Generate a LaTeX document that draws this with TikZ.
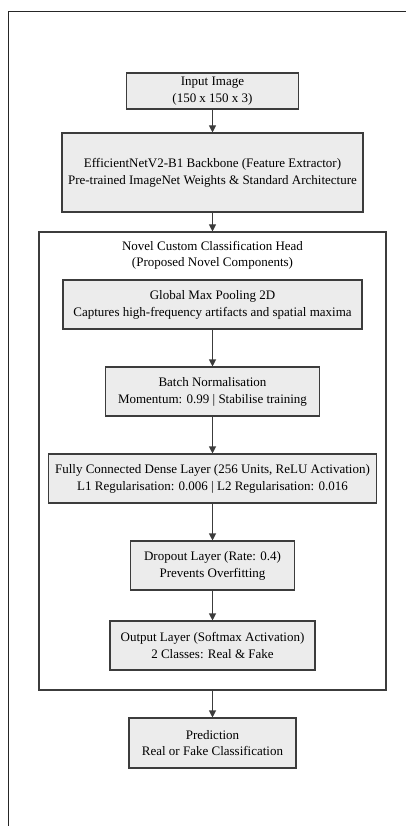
\documentclass[tikz,border=0pt]{standalone}
\usepackage{fontspec}
\setmainfont{Liberation Serif}
\usepackage{xcolor}
\usetikzlibrary{arrows.meta,positioning}

\definecolor{boxfill}{HTML}{ECECEC}
\definecolor{boxline}{HTML}{3C3C3C}

\tikzset{
    layerbox/.style={draw=boxline, fill=boxfill, line width=1.1pt, align=center,
        inner sep=0pt, font=\fontsize{13}{16.8}\selectfont},
    headbox/.style={draw=boxline, line width=1.1pt, inner sep=0pt},
    flow/.style={draw=boxline, line width=1.1pt, -{Triangle[length=7pt,width=7pt]}}
}

\begin{document}
\begin{tikzpicture}[x=1pt, y=-1pt]
    \useasboundingbox (0,0) rectangle (406,826);
    % outer frame (only left and top edges show)
    \draw[line width=1pt, black!85] (8,826) -- (8,12) -- (406,12);

    \node[layerbox, minimum width=172pt, minimum height=36pt] (inp) at (212.5,91)
        {Input Image\\(150 x 150 x 3)};
    \node[layerbox, minimum width=301pt, minimum height=79pt] (bb) at (212.5,172.5)
        {EfficientNetV2-B1 Backbone (Feature Extractor)\\Pre-trained ImageNet Weights \& Standard Architecture};

    % custom head container
    \node[headbox, minimum width=347pt, minimum height=458pt] (head) at (212.5,461) {};
    \node[align=center, font=\fontsize{13}{16.8}\selectfont, anchor=north] (headtitle)
        at ([yshift=-6pt]head.north) {Novel Custom Classification Head\\(Proposed Novel Components)};

    \node[layerbox, minimum width=299pt, minimum height=49pt] (gmp) at (212.5,304.5)
        {Global Max Pooling 2D\\Captures high-frequency artifacts and spatial maxima};
    \node[layerbox, minimum width=214pt, minimum height=49pt] (bn) at (212.5,391.5)
        {Batch Normalisation\\Momentum: 0.99 | Stabilise training};
    \node[layerbox, minimum width=328pt, minimum height=49pt] (fc) at (212.5,478.5)
        {Fully Connected Dense Layer (256 Units, ReLU Activation)\\L1 Regularisation: 0.006 | L2 Regularisation: 0.016};
    \node[layerbox, minimum width=164pt, minimum height=49pt] (drop) at (212.5,565.5)
        {Dropout Layer (Rate: 0.4)\\Prevents Overfitting};
    \node[layerbox, minimum width=205pt, minimum height=49pt] (outl) at (212.5,645.5)
        {Output Layer (Softmax Activation)\\2 Classes: Real \& Fake};

    \node[layerbox, minimum width=167pt, minimum height=50pt] (pred) at (212.5,743)
        {Prediction\\Real or Fake Classification};

    \draw[flow] (inp) -- (bb);
    \draw[flow] (bb) -- (head);
    \draw[flow] (gmp) -- (bn);
    \draw[flow] (bn) -- (fc);
    \draw[flow] (fc) -- (drop);
    \draw[flow] (drop) -- (outl);
    \draw[flow] (head) -- (pred);
\end{tikzpicture}
\end{document}
